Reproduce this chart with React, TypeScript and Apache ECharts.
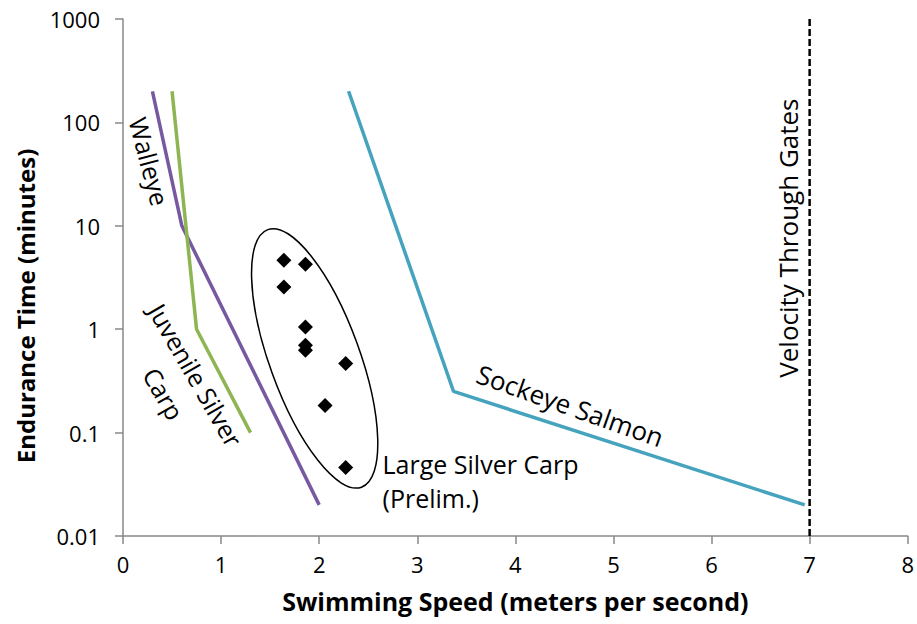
import React, { useEffect, useRef } from "react";
import * as echarts from "echarts";

// Swimming speed (m/s) vs endurance time (minutes)
const walleye: [number, number][] = [[0.3, 200], [0.6, 10], [2.0, 0.02]];
const juvenileSilverCarp: [number, number][] = [[0.5, 200], [0.75, 1], [1.3, 0.1]];
const sockeyeSalmon: [number, number][] = [[2.3, 200], [3.37, 0.25], [6.95, 0.02]];
const largeSilverCarp: [number, number][] = [
  [1.64, 4.65], [1.86, 4.25], [1.64, 2.56], [1.86, 1.05], [1.86, 0.7],
  [1.86, 0.625], [2.27, 0.465], [2.06, 0.183], [2.27, 0.046],
];
const gateVelocity = 7;
const xTicks = [0, 1, 2, 3, 4, 5, 6, 7, 8];
const yTicks = [0.01, 0.1, 1, 10, 100, 1000];

const FONT = "'Open Sans', sans-serif";

export default function App() {
  const ref = useRef<HTMLDivElement>(null);
  useEffect(() => {
    document.body.style.margin = "0";
    if (!ref.current) return;
    const chart = echarts.init(ref.current, null, { renderer: "svg" });
    const axisColor = "#888888";
    chart.setOption({
      animation: false,
      backgroundColor: "#ffffff",
      grid: { left: 123, right: 8, top: 19, bottom: 88 },
      xAxis: {
        type: "value",
        min: xTicks[0],
        max: xTicks[xTicks.length - 1],
        interval: 1,
        name: "Swimming Speed (meters per second)",
        nameLocation: "middle",
        nameGap: 52,
        nameTextStyle: { fontFamily: FONT, fontWeight: "bold", fontSize: 25, color: "#000" },
        axisLine: { lineStyle: { color: axisColor, width: 1.5 } },
        axisTick: { show: true, length: 8, lineStyle: { color: axisColor, width: 1.5 } },
        axisLabel: { fontFamily: FONT, fontSize: 22, color: "#000", margin: 17 },
        splitLine: { show: false },
      },
      yAxis: {
        type: "log",
        logBase: 10,
        min: yTicks[0],
        max: yTicks[yTicks.length - 1],
        axisLine: { show: true, lineStyle: { color: axisColor, width: 1.5 } },
        axisTick: { show: true, length: 8, lineStyle: { color: axisColor, width: 1.5 } },
        axisLabel: {
          fontFamily: FONT, fontSize: 22, color: "#000", margin: 23,
          formatter: (v: number) => String(+v.toPrecision(6)),
        },
        splitLine: { show: false },
      },
      series: [
        { name: "Walleye", type: "line", data: walleye, symbol: "none", lineStyle: { color: "#7659A0", width: 3.5 } },
        { name: "Juvenile Silver Carp", type: "line", data: juvenileSilverCarp, symbol: "none", lineStyle: { color: "#8DB552", width: 3.5 } },
        { name: "Sockeye Salmon", type: "line", data: sockeyeSalmon, symbol: "none", lineStyle: { color: "#45A3BD", width: 3.5 } },
        {
          name: "Velocity Through Gates", type: "line",
          data: [[gateVelocity, yTicks[0]], [gateVelocity, yTicks[yTicks.length - 1]]],
          symbol: "none", lineStyle: { color: "#000", width: 2.5, type: [7, 3] },
        },
        {
          name: "Large Silver Carp", type: "scatter", data: largeSilverCarp,
          symbol: "diamond", symbolSize: 15, itemStyle: { color: "#000", opacity: 1 },
        },
      ],
    });

    const px = (x: number, y: number) => chart.convertToPixel({ gridIndex: 0 }, [x, y]) as number[];
    const deg = (d: number) => (d * Math.PI) / 180;
    const label = (text: string, x: number, y: number, rot: number, size: number, align = "center", lh = 36) => {
      const p = px(x, y);
      return {
        type: "text", x: p[0], y: p[1], rotation: deg(rot),
        style: {
          text, fill: "#000", font: `${size}px ${FONT}`,
          textAlign: align, textVerticalAlign: "middle", lineHeight: lh,
        },
      };
    };
    const ec = px(1.954, 0.522);
    chart.setOption({
      graphic: [
        {
          type: "ellipse", x: ec[0], y: ec[1], rotation: deg(20),
          shape: { cx: 0, cy: 0, rx: 45, ry: 137 },
          style: { fill: "none", stroke: "#000", lineWidth: 1.5 },
        },
        label("Walleye", 0.27, 42, -75, 25),
        label("Juvenile Silver\nCarp", 0.58, 0.293, -60, 25, "center", 37),
        label("Sockeye Salmon", 4.56, 0.183, -19.5, 26),
        label("Large Silver Carp\n(Prelim.)", 2.646, 0.0344, 0, 25, "left", 34),
        label("Velocity Through Gates", 6.78, 7.6, 90, 26),
        {
          type: "text", x: 25, y: 306, rotation: deg(90),
          style: {
            text: "Endurance Time (minutes)", fill: "#000",
            font: `bold 24px ${FONT}`, textAlign: "center", textVerticalAlign: "middle",
          },
        },
      ],
    });
    return () => chart.dispose();
  }, []);
  return <div ref={ref} style={{ width: 917, height: 624 }} />;
}
